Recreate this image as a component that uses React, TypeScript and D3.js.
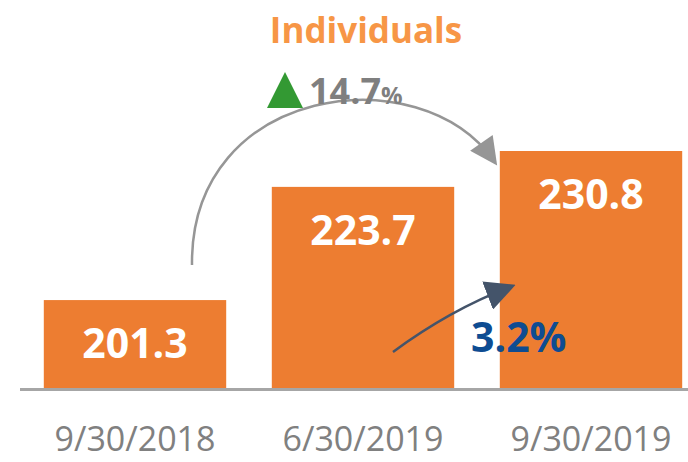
import { useEffect, useRef } from "react";
import * as d3 from "d3";

// chart data
const categories = ["9/30/2018", "6/30/2019", "9/30/2019"];
const values = [201.3, 223.7, 230.8];
const title = "Individuals";
const longChange = "14.7";
const shortChange = "3.2%";

export default function App() {
  const svgRef = useRef<SVGSVGElement | null>(null);

  useEffect(() => {
    const svg = d3.select(svgRef.current);
    svg.selectAll("*").remove();

    const width = 688;
    const baseline = 388;

    // x scale for the three periods
    const x = d3
      .scaleBand<string>()
      .domain(categories)
      .range([21, 705])
      .paddingInner(0.2)
      .paddingOuter(0.1);

    // y axis does not start at zero in the original
    const y = d3.scaleLinear().domain([183.9, 230.8]).range([baseline, 151]);

    const defs = svg.append("defs");
    defs
      .append("marker")
      .attr("id", "grayHead")
      .attr("viewBox", "0 0 10 10")
      .attr("refX", 8)
      .attr("refY", 5)
      .attr("markerWidth", 12)
      .attr("markerHeight", 11)
      .attr("markerUnits", "strokeWidth")
      .attr("orient", "auto")
      .append("path")
      .attr("d", "M0,0 L10,5 L0,10 z")
      .attr("fill", "#969696");
    defs
      .append("marker")
      .attr("id", "darkHead")
      .attr("viewBox", "0 0 10 10")
      .attr("refX", 8)
      .attr("refY", 5)
      .attr("markerWidth", 12)
      .attr("markerHeight", 12)
      .attr("markerUnits", "strokeWidth")
      .attr("orient", "auto")
      .append("path")
      .attr("d", "M0,0 L10,5 L0,10 z")
      .attr("fill", "#44546A");

    // bars
    svg
      .selectAll("rect.bar")
      .data(values)
      .join("rect")
      .attr("class", "bar")
      .attr("x", (_, i) => x(categories[i])!)
      .attr("y", (d) => y(d))
      .attr("width", x.bandwidth())
      .attr("height", (d) => baseline - y(d))
      .attr("fill", "#ED7D31");

    // value labels inside bars
    svg
      .selectAll("text.val")
      .data(values)
      .join("text")
      .attr("class", "val")
      .attr("x", (_, i) => x(categories[i])! + x.bandwidth() / 2)
      .attr("y", (d) => y(d) + 58)
      .attr("text-anchor", "middle")
      .attr("font-family", "Open Sans")
      .attr("font-weight", 700)
      .attr("font-size", 41)
      .attr("fill", "#ffffff")
      .text((d) => d.toFixed(1));

    // baseline
    svg
      .append("line")
      .attr("x1", 20)
      .attr("x2", width)
      .attr("y1", baseline + 1.5)
      .attr("y2", baseline + 1.5)
      .attr("stroke", "#A6A6A6")
      .attr("stroke-width", 3);

    // category labels
    svg
      .selectAll("text.cat")
      .data(categories)
      .join("text")
      .attr("class", "cat")
      .attr("x", (d) => x(d)! + x.bandwidth() / 2)
      .attr("y", 451)
      .attr("text-anchor", "middle")
      .attr("font-family", "Open Sans")
      .attr("font-size", 34)
      .attr("fill", "#808080")
      .text((d) => d);

    // title
    svg
      .append("text")
      .attr("x", 366)
      .attr("y", 43)
      .attr("text-anchor", "middle")
      .attr("font-family", "Open Sans")
      .attr("font-weight", 700)
      .attr("font-size", 35)
      .attr("fill", "#F79646")
      .text(title);

    // year-over-year arc arrow
    svg
      .append("path")
      .attr("d", "M192,265 C190,85 420,55 494,161")
      .attr("fill", "none")
      .attr("stroke", "#969696")
      .attr("stroke-width", 2.5)
      .attr("marker-end", "url(#grayHead)");

    // green triangle + 14.7%
    svg
      .append("path")
      .attr("d", "M267,108 L285,72 L303,108 Z")
      .attr("fill", "#339933");
    const pct = svg
      .append("text")
      .attr("x", 309)
      .attr("y", 104)
      .attr("font-family", "Open Sans")
      .attr("font-weight", 700)
      .attr("fill", "#7F7F7F");
    pct.append("tspan").attr("font-size", 36).text(longChange);
    pct.append("tspan").attr("font-size", 24).text("%");

    // quarter-over-quarter arrow
    svg
      .append("path")
      .attr("d", "M393,352 Q450,310 510,287")
      .attr("fill", "none")
      .attr("stroke", "#44546A")
      .attr("stroke-width", 2.5)
      .attr("marker-end", "url(#darkHead)");

    svg
      .append("text")
      .attr("x", 471)
      .attr("y", 352)
      .attr("font-family", "Open Sans")
      .attr("font-weight", 700)
      .attr("font-size", 41)
      .attr("fill", "#0E4C92")
      .text(shortChange);
  }, []);

  return (
    <svg
      ref={svgRef}
      width={688}
      height={462}
      style={{ position: "absolute", left: 0, top: 0, display: "block" }}
    />
  );
}
